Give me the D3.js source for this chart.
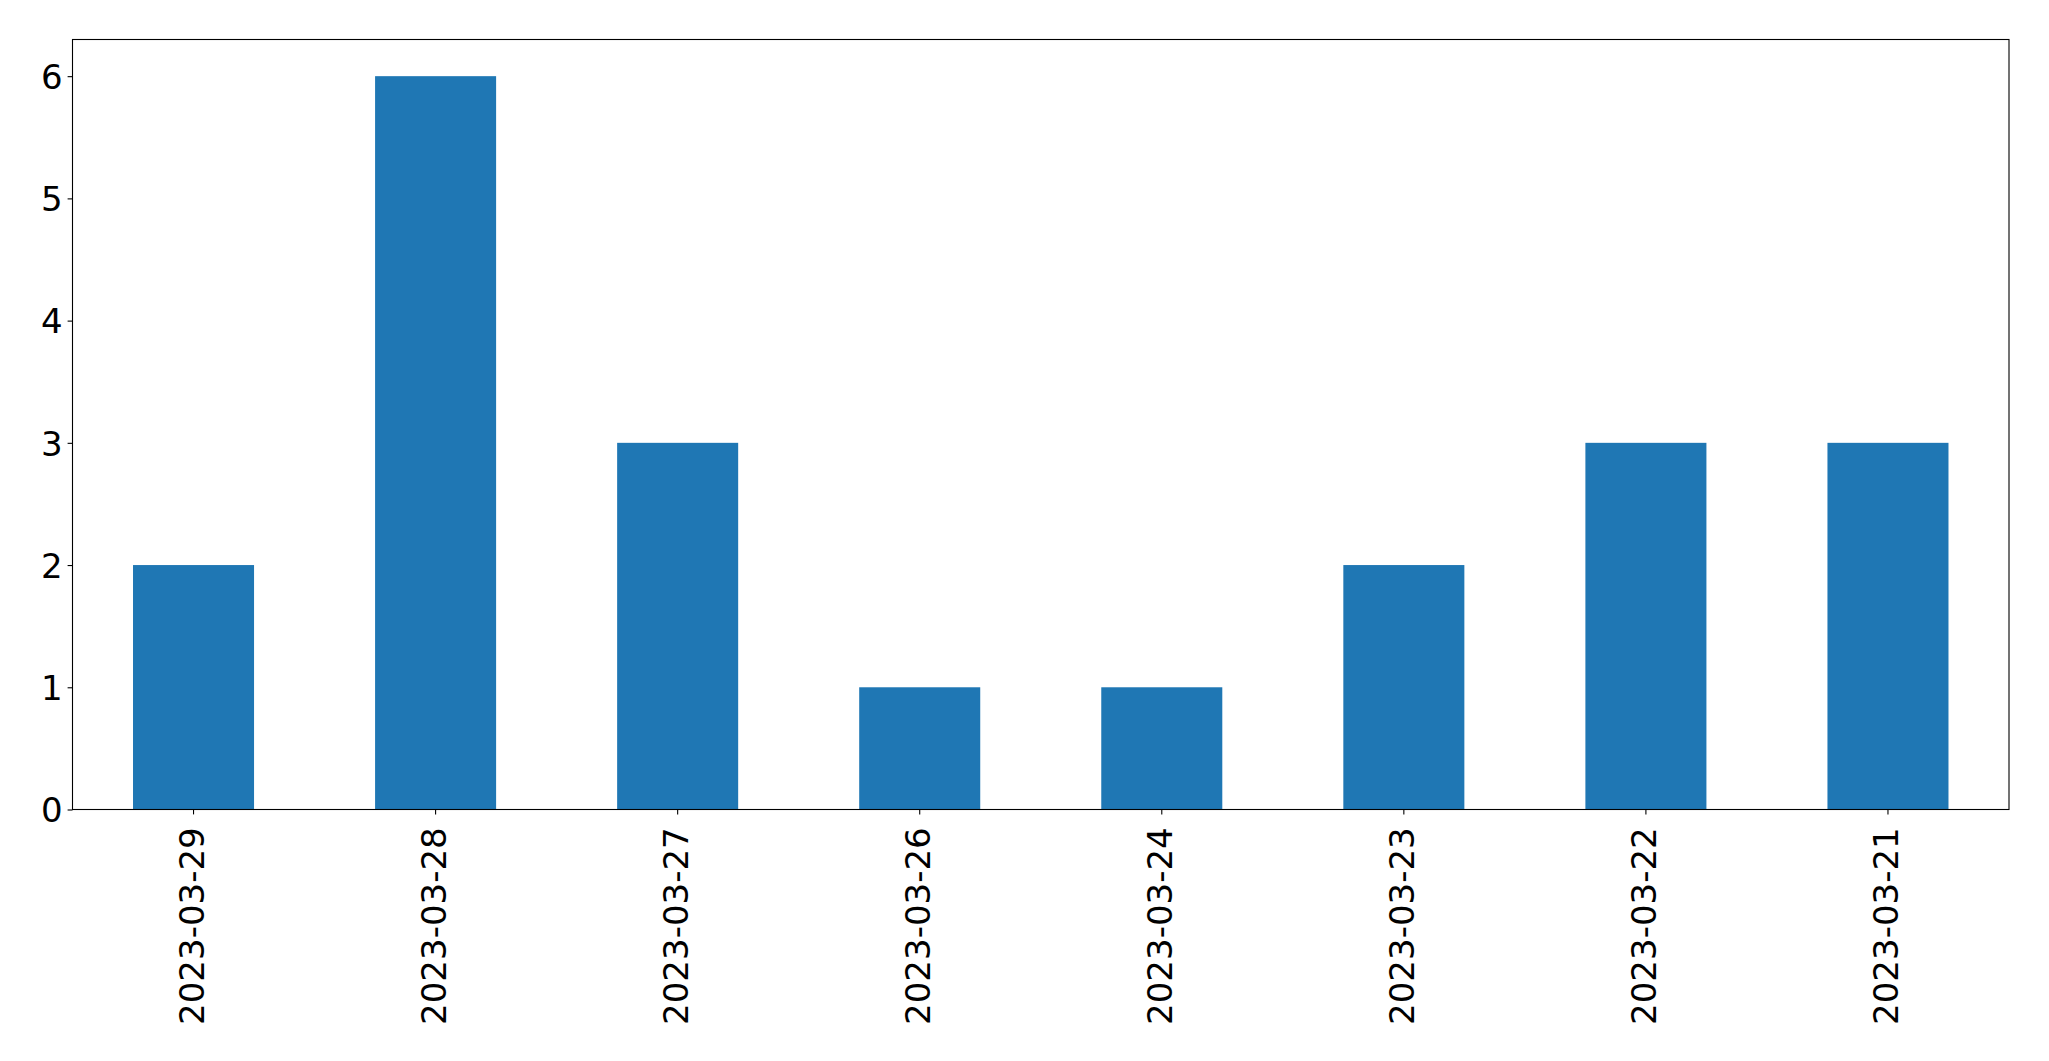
<!DOCTYPE html>
<html>
<head>
<meta charset="utf-8">
<script src="https://cdn.jsdelivr.net/npm/d3@7"></script>
<style>
html,body{margin:0;padding:0;background:#fff;}
svg{display:block;}
</style>
</head>
<body>
<svg id="chart" width="2049" height="1061"></svg>
<script>
const categories = ["2023-03-29","2023-03-28","2023-03-27","2023-03-26","2023-03-24","2023-03-23","2023-03-22","2023-03-21"];
const values = [2, 6, 3, 1, 1, 2, 3, 3];
const yTicks = [0, 1, 2, 3, 4, 5, 6];

const svg = d3.select("#chart");
const pLeft = 72.5, pRight = 2009, pTop = 39.5, pBottom = 809.5;
const fontPx = 34;
const tickLen = 4.9, tickPad = 4.9;

const x = d3.scaleBand().domain(categories).range([pLeft, pRight]).paddingInner(0.5).paddingOuter(0.25);
const y = d3.scaleLinear().domain([0, 6.3]).range([pBottom, pTop]);

svg.append("g").selectAll("rect").data(values).join("rect")
  .attr("x", (d, i) => x(categories[i]))
  .attr("width", x.bandwidth())
  .attr("y", d => y(d))
  .attr("height", d => y(0) - y(d))
  .attr("fill", "#1f77b4");

// Y axis
const ya = svg.append("g").attr("transform", `translate(${pLeft},0)`)
  .call(d3.axisLeft(y).tickValues(yTicks).tickFormat(d3.format("d")).tickSize(tickLen).tickPadding(tickPad));
ya.select(".domain").remove();
ya.selectAll(".tick line").attr("stroke", "#000").attr("stroke-width", 1.1);
ya.selectAll(".tick text").attr("font-family", "DejaVu Sans").attr("font-size", fontPx).attr("fill", "#000").attr("dy", "0.36em");

// X axis
const xa = svg.append("g").attr("transform", `translate(0,${pBottom})`)
  .call(d3.axisBottom(x).tickSize(tickLen).tickPadding(tickPad));
xa.select(".domain").remove();
xa.selectAll(".tick line").attr("stroke", "#000").attr("stroke-width", 1.1);
xa.selectAll(".tick text")
  .attr("font-family", "DejaVu Sans").attr("font-size", fontPx).attr("fill", "#000")
  .attr("text-anchor", "end")
  .attr("y", 0).attr("x", 0)
  .attr("dy", "0.3em")
  .attr("transform", `translate(0,${tickLen + tickPad + 8}) rotate(-90)`);

// frame
svg.append("rect").attr("x", pLeft).attr("y", pTop).attr("width", pRight - pLeft).attr("height", pBottom - pTop)
  .attr("fill", "none").attr("stroke", "#000").attr("stroke-width", 1.1);
</script>
</body>
</html>
